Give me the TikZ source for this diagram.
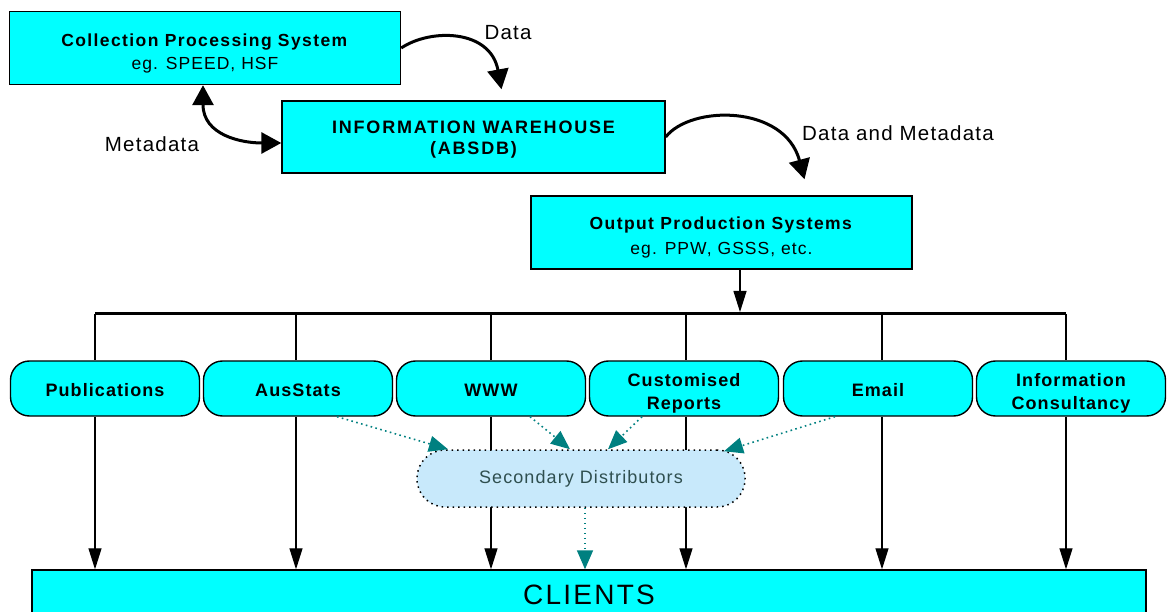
\documentclass[tikz,border=0pt]{standalone}
\usepackage{fontspec}
\setmainfont{Liberation Sans}[LetterSpace=6]
\usetikzlibrary{arrows.meta}
\definecolor{boxcyan}{RGB}{0,255,255}
\definecolor{sdblue}{RGB}{200,233,251}
\definecolor{sdtext}{RGB}{47,79,79}
\definecolor{arrteal}{RGB}{0,128,128}

\begin{document}
\begin{tikzpicture}[x=1pt,y=-1pt,
  box/.style={draw=black,line width=1.4pt,fill=boxcyan,minimum width=#1,minimum height=73,inner sep=0,align=center},
  pill/.style={draw=black,line width=1.4pt,fill=boxcyan,rounded corners=19,minimum width=189,minimum height=55,inner sep=0,align=center,font=\bfseries\fontsize{18}{23}\selectfont},
  lbl/.style={font=\fontsize{20.5}{24}\selectfont},
  bigtip/.tip={Triangle[width=21pt,length=20pt]},
  bigarrow/.style={line width=3pt,-bigtip},
  downarrow/.style={line width=1.2pt,-{Triangle[width=13pt,length=21pt]}},
  tealarrow/.style={arrteal,line width=1.6pt,dash pattern=on 1.6pt off 3.4pt,-{Triangle[width=16pt,length=19pt,fill=arrteal]}}]
\useasboundingbox (0,0) rectangle (1168,612);
\clip (0,0) rectangle (1168,612);

\node[box=391,text height=46pt,font=\fontsize{17.5}{23}\selectfont] (cps) at (205,48) {\textbf{\addfontfeature{LetterSpace=8}Collection Processing System}\\eg. SPEED, HSF};
\node[box=383,minimum height=72,text height=38pt,font=\bfseries\fontsize{18}{21}\selectfont\addfontfeature{LetterSpace=10}] (iw) at (473.5,137) {INFORMATION WAREHOUSE\\(ABSDB)};
\node[box=381,text height=48pt,font=\fontsize{17.5}{25}\selectfont] (ops) at (721.5,232.5) {\textbf{\addfontfeature{LetterSpace=8}Output Production Systems}\\eg. PPW, GSSS, etc.};

\node[lbl] (ldata) at (508,33) {Data};
\node[lbl] (lmeta) at (152,144) {Metadata};
\node[lbl] (ldm) at (898,133) {Data and Metadata};

\draw[bigarrow] (cps.east) .. controls +(30,-20) and +(-11,-60) .. ([xshift=28pt,yshift=11pt]iw.north);
\draw[bigarrow,bigtip-bigtip] ([xshift=-2pt]cps.south) .. controls +(0,50) and +(-40,0) .. ([yshift=-6pt]iw.west);
\draw[bigarrow] (iw.east) .. controls +(25,-32) and +(-20,-75) .. ([xshift=83pt,yshift=16pt]ops.north);

% distribution channels
\foreach \n/\c/\t/\h in {pub/105/Publications/16, aus/298/AusStats/16, www/491/WWW/16, cust/684/{Customised\\Reports}/46, mail/878/Email/16, info/1071/{Information\\Consultancy}/46}
  \node[pill,text height=\h pt] (\n) at (\c,388.5) {\t};

\node[draw=black,line width=1.4pt,fill=boxcyan,minimum width=1114,minimum height=50,inner sep=0,font=\fontsize{28}{30}\selectfont\addfontfeature{LetterSpace=8}] (clients) at (589,595) {CLIENTS};

\coordinate (feed) at (740,312);
\draw[downarrow] (ops.south -| feed) -- (feed);
\foreach \n/\x [count=\i] in {pub/95,aus/296,www/491,cust/686,mail/882,info/1066} {
  \coordinate (b\i) at (\x,314);
  \draw[line width=1.2pt] (b\i) -- (\n.north -| b\i);
  \draw[downarrow] (\n.south -| b\i) -- (clients.north -| b\i);
}
\draw[line width=3pt] (b1) -- (b6);

\node[draw=black,line width=1.5pt,dash pattern=on 1.5pt off 4pt,fill=sdblue,rounded corners=28,minimum width=328,minimum height=57,inner sep=0,text=sdtext,font=\fontsize{18}{22}\selectfont] (sd) at (581,478.5) {Secondary Distributors};

\draw[tealarrow] ([xshift=39pt]aus.south) -- ([xshift=-133pt]sd.north);
\draw[tealarrow] ([xshift=39pt]www.south) -- ([xshift=-11pt]sd.north);
\draw[tealarrow] ([xshift=-42pt]cust.south) -- ([xshift=27pt]sd.north);
\draw[tealarrow] ([xshift=-43pt]mail.south) -- ([xshift=143pt,yshift=-2pt]sd.north);
\coordinate (sdout) at ([xshift=4pt]sd.south);
\draw[tealarrow] (sdout) -- (sdout |- clients.north);
\end{tikzpicture}
\end{document}
